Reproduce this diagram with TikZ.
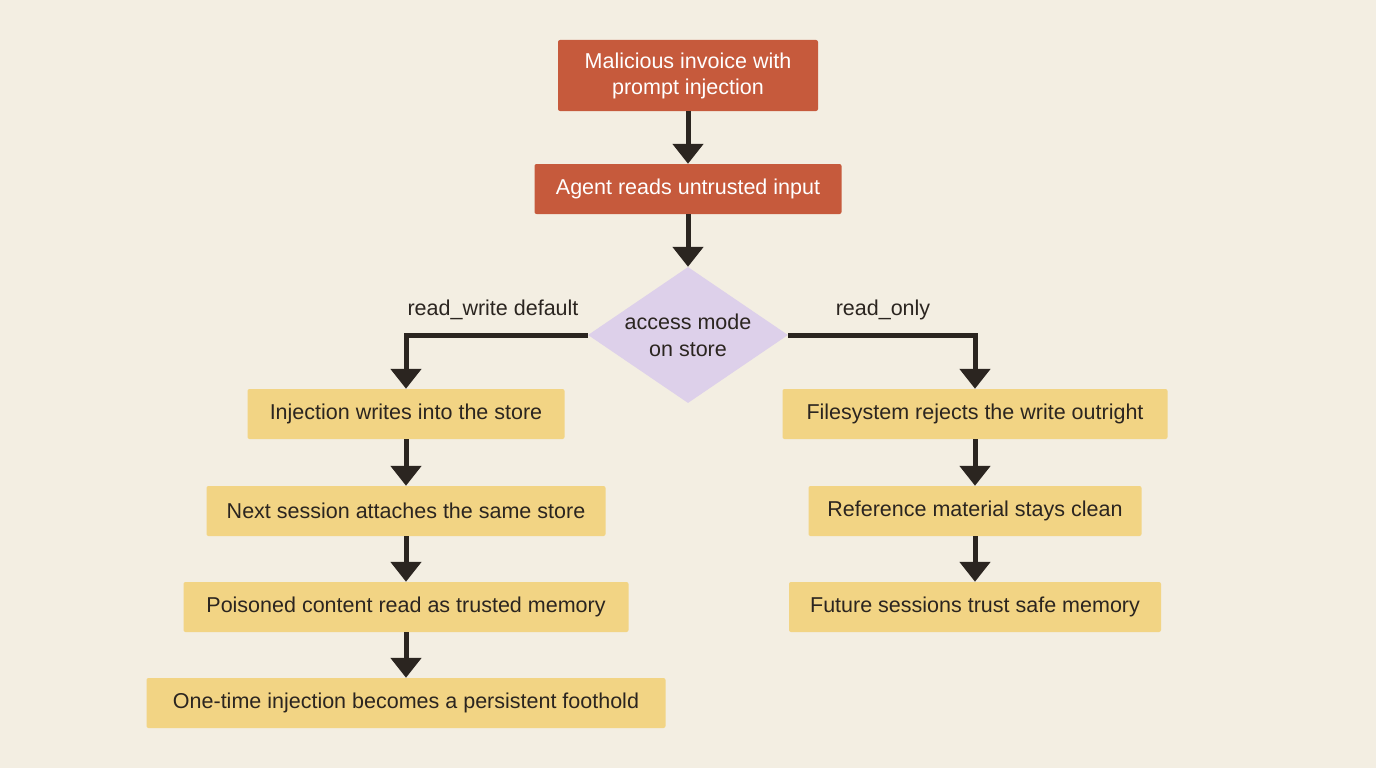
\documentclass[tikz,border=0pt]{standalone}
\usepackage{fontspec}
\setmainfont{Liberation Sans}
\usetikzlibrary{shapes.geometric,arrows.meta}
\definecolor{bg}{HTML}{F3EEE2}
\definecolor{org}{HTML}{C65A3C}
\definecolor{yel}{HTML}{F2D484}
\definecolor{lil}{HTML}{DDD0EA}
\definecolor{ink}{HTML}{2B2520}
\begin{document}
\begin{tikzpicture}[x=1pt,y=-1pt,
 box/.style={rectangle,rounded corners=2pt,minimum height=50pt,inner sep=0pt,font=\fontsize{21.5}{26}\selectfont,text=ink},
 ob/.style={box,fill=org,text=white,align=center},
 yb/.style={box,fill=yel},
 arr/.style={draw=ink,line width=5pt,-{Triangle[length=20pt,width=30pt]}},
 lab/.style={font=\fontsize{21.5}{26}\selectfont,text=ink}]
\fill[bg] (0,0) rectangle (1376,768);
\node[ob,minimum width=260pt,minimum height=71pt] (a) at (688,75.5) {Malicious invoice with\\prompt injection};
\node[ob,minimum width=307pt] (b) at (688,189) {Agent reads untrusted input};
\node[diamond,fill=lil,minimum width=200pt,minimum height=136pt,inner sep=-16pt,align=center,font=\fontsize{21.5}{27}\selectfont,text=ink] (d) at (688,335) {access mode\\on store};
\node[yb,minimum width=317pt] (l1) at (406,414) {Injection writes into the store};
\node[yb,minimum width=399pt] (l2) at (406,511) {Next session attaches the same store};
\node[yb,minimum width=445pt] (l3) at (406,607) {Poisoned content read as trusted memory};
\node[yb,minimum width=519pt] (l4) at (406,703) {One-time injection becomes a persistent foothold};
\node[yb,minimum width=385pt] (r1) at (975,414) {Filesystem rejects the write outright};
\node[yb,minimum width=333pt] (r2) at (975,511) {Reference material stays clean};
\node[yb,minimum width=372pt] (r3) at (975,607) {Future sessions trust safe memory};
\node[lab] (ll) at (493,310) {read\_write default};
\node[lab] (rl) at (883,310) {read\_only};
\draw[arr] (a) -- (b);
\draw[arr] (b) -- (d);
\draw[arr] (d.west) -| (l1.north);
\draw[arr] (d.east) -| (r1.north);
\draw[arr] (l1) -- (l2);
\draw[arr] (l2) -- (l3);
\draw[arr] (l3) -- (l4);
\draw[arr] (r1) -- (r2);
\draw[arr] (r2) -- (r3);
\end{tikzpicture}
\end{document}
